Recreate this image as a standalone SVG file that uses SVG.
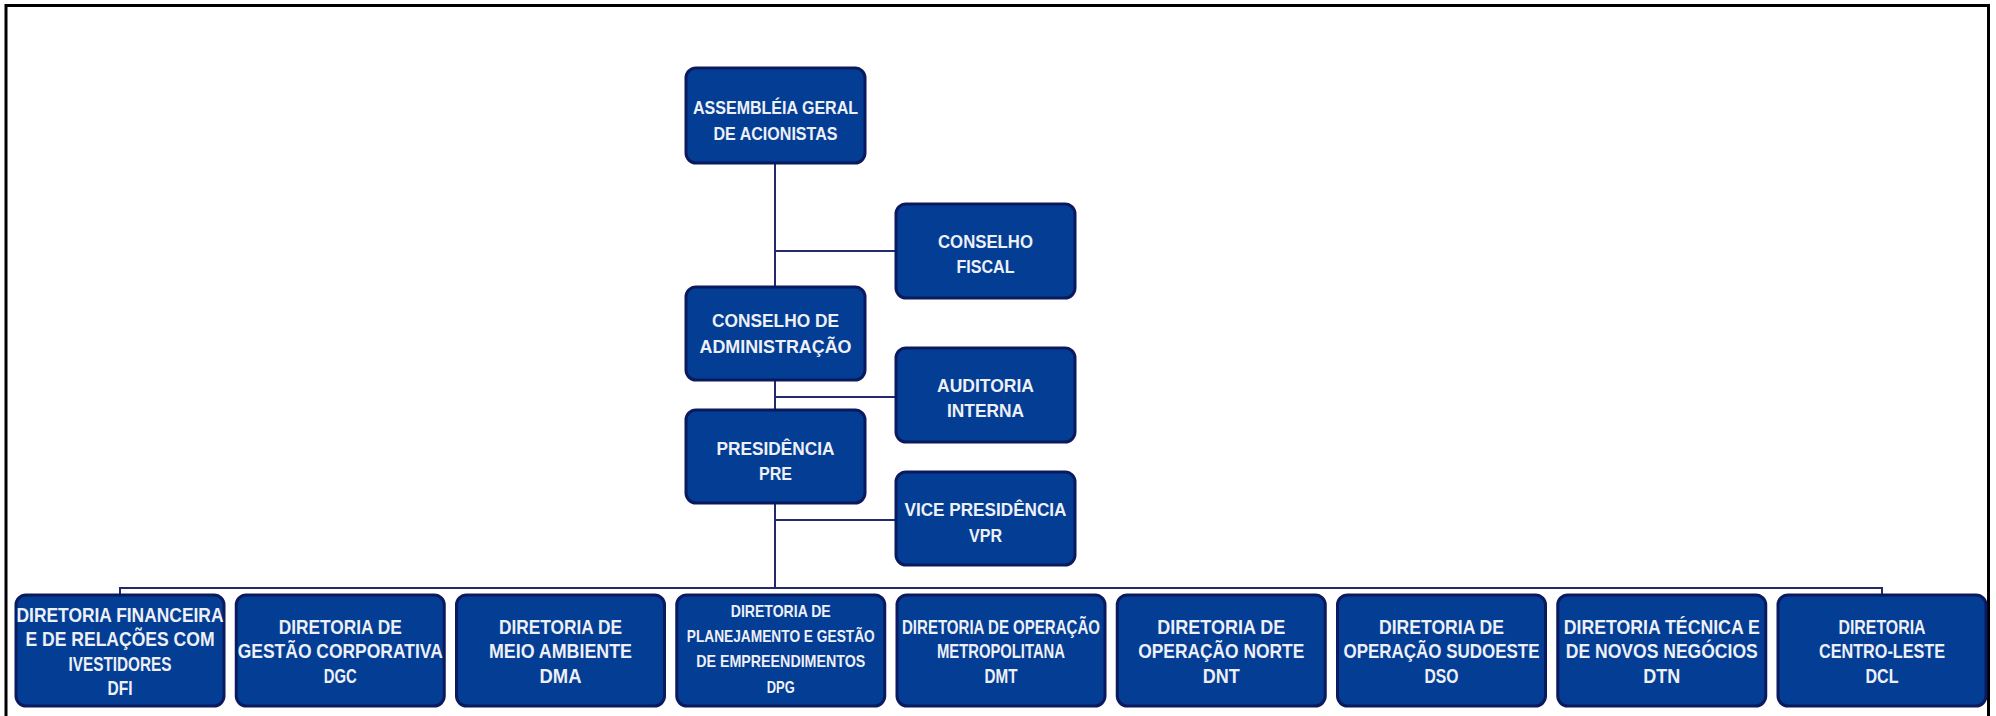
<svg xmlns="http://www.w3.org/2000/svg" width="1996" height="716" viewBox="0 0 1996 716">
<style>
.box{fill:#033d94;stroke:#0b1a5e;stroke-width:3}
.t{font-family:"Liberation Sans",Arial,sans-serif;font-weight:bold;font-size:20px;fill:#eef0f7;text-anchor:middle}
.tt{font-family:"Liberation Sans",Arial,sans-serif;font-weight:bold;font-size:19px;fill:#eef0f7;text-anchor:middle}
.ts{font-family:"Liberation Sans",Arial,sans-serif;font-weight:bold;font-size:17px;fill:#eef0f7;text-anchor:middle}
.conn{fill:none;stroke:#232a6e;stroke-width:2}
.frame{fill:none;stroke:#000;stroke-width:3}
</style>
<rect width="1996" height="716" fill="#fff"/>
<path class="frame" d="M6,716 V5.5 H1988.5 V716"/>
<g id="connectors">
<path class="conn" d="M775,163 V588"/>
<path class="conn" d="M775,251 H896"/>
<path class="conn" d="M775,397 H896"/>
<path class="conn" d="M775,520 H896"/>
<path class="conn" d="M120,595 V588 H1882 V595"/>
</g>
<g id="assembleia">
<rect class="box" x="686" y="68" width="179" height="95" rx="10"/>
<text class="tt" x="775.5" y="114" textLength="165" lengthAdjust="spacingAndGlyphs">ASSEMBLÉIA GERAL</text>
<text class="tt" x="775.5" y="140" textLength="124" lengthAdjust="spacingAndGlyphs">DE ACIONISTAS</text>
</g>
<g id="conselho-fiscal">
<rect class="box" x="896" y="204" width="179" height="94" rx="10"/>
<text class="tt" x="985.5" y="248" textLength="95" lengthAdjust="spacingAndGlyphs">CONSELHO</text>
<text class="tt" x="985.5" y="273" textLength="58" lengthAdjust="spacingAndGlyphs">FISCAL</text>
</g>
<g id="conselho-administracao">
<rect class="box" x="686" y="287" width="179" height="93" rx="10"/>
<text class="tt" x="775.5" y="327" textLength="127" lengthAdjust="spacingAndGlyphs">CONSELHO DE</text>
<text class="tt" x="775.5" y="353" textLength="152" lengthAdjust="spacingAndGlyphs">ADMINISTRAÇÃO</text>
</g>
<g id="auditoria-interna">
<rect class="box" x="896" y="348" width="179" height="94" rx="10"/>
<text class="tt" x="985.5" y="392" textLength="97" lengthAdjust="spacingAndGlyphs">AUDITORIA</text>
<text class="tt" x="985.5" y="417" textLength="77" lengthAdjust="spacingAndGlyphs">INTERNA</text>
</g>
<g id="presidencia">
<rect class="box" x="686" y="410" width="179" height="93" rx="10"/>
<text class="tt" x="775.5" y="455" textLength="118" lengthAdjust="spacingAndGlyphs">PRESIDÊNCIA</text>
<text class="tt" x="775.5" y="480" textLength="33" lengthAdjust="spacingAndGlyphs">PRE</text>
</g>
<g id="vice-presidencia">
<rect class="box" x="896" y="472" width="179" height="93" rx="10"/>
<text class="tt" x="985.5" y="516" textLength="162" lengthAdjust="spacingAndGlyphs">VICE PRESIDÊNCIA</text>
<text class="tt" x="985.5" y="542" textLength="33" lengthAdjust="spacingAndGlyphs">VPR</text>
</g>
<g id="dfi">
<rect class="box" x="16" y="595" width="208" height="111" rx="10"/>
<text class="t" x="120" y="622" textLength="207" lengthAdjust="spacingAndGlyphs">DIRETORIA FINANCEIRA</text>
<text class="t" x="120" y="646" textLength="189" lengthAdjust="spacingAndGlyphs">E DE RELAÇÕES COM</text>
<text class="t" x="120" y="671" textLength="103" lengthAdjust="spacingAndGlyphs">IVESTIDORES</text>
<text class="t" x="120" y="695" textLength="25" lengthAdjust="spacingAndGlyphs">DFI</text>
</g>
<g id="dgc">
<rect class="box" x="236.25" y="595" width="208" height="111" rx="10"/>
<text class="t" x="340.25" y="634" textLength="123" lengthAdjust="spacingAndGlyphs">DIRETORIA DE</text>
<text class="t" x="340.25" y="658" textLength="205" lengthAdjust="spacingAndGlyphs">GESTÃO CORPORATIVA</text>
<text class="t" x="340.25" y="683" textLength="33" lengthAdjust="spacingAndGlyphs">DGC</text>
</g>
<g id="dma">
<rect class="box" x="456.5" y="595" width="208" height="111" rx="10"/>
<text class="t" x="560.5" y="634" textLength="123" lengthAdjust="spacingAndGlyphs">DIRETORIA DE</text>
<text class="t" x="560.5" y="658" textLength="143" lengthAdjust="spacingAndGlyphs">MEIO AMBIENTE</text>
<text class="t" x="560.5" y="683" textLength="42" lengthAdjust="spacingAndGlyphs">DMA</text>
</g>
<g id="dpg">
<rect class="box" x="676.75" y="595" width="208" height="111" rx="10"/>
<text class="ts" x="780.75" y="617" textLength="100" lengthAdjust="spacingAndGlyphs">DIRETORIA DE</text>
<text class="ts" x="780.75" y="642" textLength="188" lengthAdjust="spacingAndGlyphs">PLANEJAMENTO E GESTÃO</text>
<text class="ts" x="780.75" y="667" textLength="169" lengthAdjust="spacingAndGlyphs">DE EMPREENDIMENTOS</text>
<text class="ts" x="780.75" y="693" textLength="28" lengthAdjust="spacingAndGlyphs">DPG</text>
</g>
<g id="dmt">
<rect class="box" x="897" y="595" width="208" height="111" rx="10"/>
<text class="t" x="1001" y="634" textLength="198" lengthAdjust="spacingAndGlyphs">DIRETORIA DE OPERAÇÃO</text>
<text class="t" x="1001" y="658" textLength="128" lengthAdjust="spacingAndGlyphs">METROPOLITANA</text>
<text class="t" x="1001" y="683" textLength="33" lengthAdjust="spacingAndGlyphs">DMT</text>
</g>
<g id="dnt">
<rect class="box" x="1117.25" y="595" width="208" height="111" rx="10"/>
<text class="t" x="1221.25" y="634" textLength="128" lengthAdjust="spacingAndGlyphs">DIRETORIA DE</text>
<text class="t" x="1221.25" y="658" textLength="166" lengthAdjust="spacingAndGlyphs">OPERAÇÃO NORTE</text>
<text class="t" x="1221.25" y="683" textLength="37" lengthAdjust="spacingAndGlyphs">DNT</text>
</g>
<g id="dso">
<rect class="box" x="1337.5" y="595" width="208" height="111" rx="10"/>
<text class="t" x="1441.5" y="634" textLength="125" lengthAdjust="spacingAndGlyphs">DIRETORIA DE</text>
<text class="t" x="1441.5" y="658" textLength="196" lengthAdjust="spacingAndGlyphs">OPERAÇÃO SUDOESTE</text>
<text class="t" x="1441.5" y="683" textLength="34" lengthAdjust="spacingAndGlyphs">DSO</text>
</g>
<g id="dtn">
<rect class="box" x="1557.75" y="595" width="208" height="111" rx="10"/>
<text class="t" x="1661.75" y="634" textLength="196" lengthAdjust="spacingAndGlyphs">DIRETORIA TÉCNICA E</text>
<text class="t" x="1661.75" y="658" textLength="192" lengthAdjust="spacingAndGlyphs">DE NOVOS NEGÓCIOS</text>
<text class="t" x="1661.75" y="683" textLength="37" lengthAdjust="spacingAndGlyphs">DTN</text>
</g>
<g id="dcl">
<rect class="box" x="1778" y="595" width="208" height="111" rx="10"/>
<text class="t" x="1882" y="634" textLength="87" lengthAdjust="spacingAndGlyphs">DIRETORIA</text>
<text class="t" x="1882" y="658" textLength="126" lengthAdjust="spacingAndGlyphs">CENTRO-LESTE</text>
<text class="t" x="1882" y="683" textLength="33" lengthAdjust="spacingAndGlyphs">DCL</text>
</g>
</svg>
